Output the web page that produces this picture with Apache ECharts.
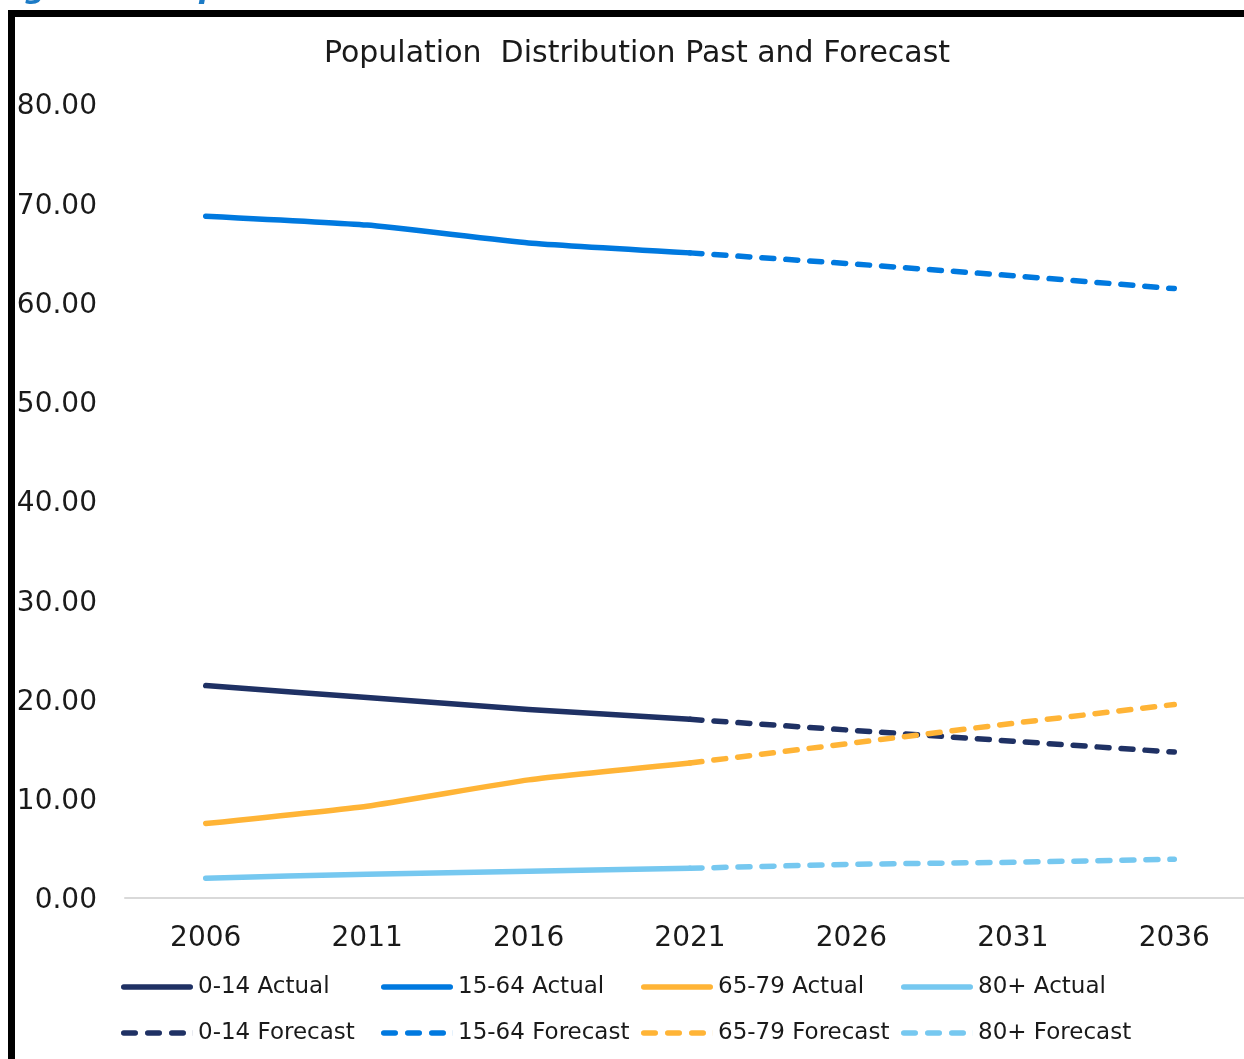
<!DOCTYPE html>
<html>
<head>
<meta charset="utf-8">
<script src="https://cdn.jsdelivr.net/npm/echarts@6/dist/echarts.min.js"></script>
<style>
html,body{margin:0;padding:0;background:#fff;}
#chart{width:1244px;height:1059px;}
</style>
</head>
<body>
<div id="chart"></div>
<script>
const years = ['2006','2011','2016','2021','2026','2031','2036'];
const yTicks = [0,10,20,30,40,50,60,70,80];

const age0_14_actual   = [21.4, 20.2, 19.0, 18.0, null, null, null];
const age0_14_forecast = [null, null, null, 18.0, 16.9, 15.8, 14.7];
const age15_64_actual   = [68.7, 67.8, 66.0, 65.0, null, null, null];
const age15_64_forecast = [null, null, null, 65.0, 63.9, 62.7, 61.4];
const age65_79_actual   = [7.5, 9.25, 11.9, 13.6, null, null, null];
const age65_79_forecast = [null, null, null, 13.6, 15.6, 17.6, 19.5];
const age80_actual   = [2.0, 2.4, 2.7, 3.0, null, null, null];
const age80_forecast = [null, null, null, 3.0, 3.4, 3.6, 3.9];

const seriesNames = ['0-14 Actual','15-64 Actual','65-79 Actual','80+ Actual',
                     '0-14 Forecast','15-64 Forecast','65-79 Forecast','80+ Forecast'];

const FONT = 'DejaVu Sans';
const C_NAVY = '#1F3164', C_BLUE = '#0079DF', C_ORANGE = '#FFB436', C_LIGHT = '#76C8F0';

function seg(a, b) {
  const r = 2.75, h = 5.5;
  return 'M' + (a + r) + ',0 H' + (b - r) + ' A' + r + ',' + r + ' 0 0 1 ' + (b - r) + ',' + h +
         ' H' + (a + r) + ' A' + r + ',' + r + ' 0 0 1 ' + (a + r) + ',0 Z ';
}
const ICON_SOLID = 'path://' + seg(0, 72);
const ICON_DASH = 'path://' + seg(0, 17) + seg(24, 41) + seg(48, 65) + 'M71.9,0 H72 V5.5 H71.9 Z';

function mk(name, data, color, dashed) {
  return {
    name: name, type: 'line', data: data, symbol: 'none', smooth: dashed ? false : 0.15,
    connectNulls: false,
    lineStyle: { color: color, width: 5.5, cap: 'round', join: 'round', type: dashed ? [12, 12] : 'solid' },
    itemStyle: { color: color },
    emphasis: { disabled: true }
  };
}

function legendCol(left, names) {
  return {
    orient: 'vertical', left: left, top: 975, padding: 0, itemWidth: 72, itemHeight: 5.5, itemGap: 22,
    data: [
      { name: names[0], icon: ICON_SOLID },
      { name: names[1], icon: ICON_DASH }
    ],
    textStyle: { fontFamily: FONT, fontSize: 23, color: '#1a1a1a', lineHeight: 24 },
    selectedMode: false
  };
}

const chart = echarts.init(document.getElementById('chart'), null, { renderer: 'canvas' });
chart.setOption({
  backgroundColor: '#ffffff',
  animation: false,
  title: {
    text: 'Population  Distribution Past and Forecast',
    left: 632, top: 49, textAlign: 'center', textVerticalAlign: 'middle',
    textStyle: { fontFamily: FONT, fontSize: 30, fontWeight: 'normal', color: '#1a1a1a' }
  },
  graphic: [
    { type: 'text', left: -6, top: -25, silent: true,
      style: { text: 'Figure 4: Population Distribution', font: 'italic bold 30px "DejaVu Sans"', fill: '#1C7BC6' } },
    { type: 'rect', shape: { x: 8, y: 10, width: 1240, height: 7 }, style: { fill: '#000' }, silent: true },
    { type: 'rect', shape: { x: 8, y: 10, width: 7, height: 1060 }, style: { fill: '#000' }, silent: true }
  ],
  grid: { left: 125, top: 104, width: 1130, height: 794, containLabel: false, outerBoundsMode: 'none' },
  xAxis: {
    type: 'category', data: years, boundaryGap: true,
    axisLine: { show: true, lineStyle: { color: '#d9d9d9', width: 2 } },
    axisTick: { show: false },
    axisLabel: { fontFamily: FONT, fontSize: 28, color: '#1a1a1a', margin: 27 },
    splitLine: { show: false }
  },
  yAxis: {
    type: 'value', min: yTicks[0], max: yTicks[yTicks.length - 1], interval: 10,
    axisLine: { show: false }, axisTick: { show: false }, splitLine: { show: false },
    axisLabel: { fontFamily: FONT, fontSize: 28, color: '#1a1a1a', margin: 28,
      formatter: v => '{v|' + v.toFixed(2) + '}',
      rich: { v: { fontFamily: FONT, fontSize: 28, color: '#1a1a1a', padding: [6, 0, 0, 0] } } }
  },
  legend: [
    legendCol(121, [seriesNames[0], seriesNames[4]]),
    legendCol(381, [seriesNames[1], seriesNames[5]]),
    legendCol(641, [seriesNames[2], seriesNames[6]]),
    legendCol(901, [seriesNames[3], seriesNames[7]])
  ],
  series: [
    mk(seriesNames[0], age0_14_actual, C_NAVY, false),
    mk(seriesNames[4], age0_14_forecast, C_NAVY, true),
    mk(seriesNames[1], age15_64_actual, C_BLUE, false),
    mk(seriesNames[5], age15_64_forecast, C_BLUE, true),
    mk(seriesNames[2], age65_79_actual, C_ORANGE, false),
    mk(seriesNames[6], age65_79_forecast, C_ORANGE, true),
    mk(seriesNames[3], age80_actual, C_LIGHT, false),
    mk(seriesNames[7], age80_forecast, C_LIGHT, true)
  ]
});
</script>
</body>
</html>
